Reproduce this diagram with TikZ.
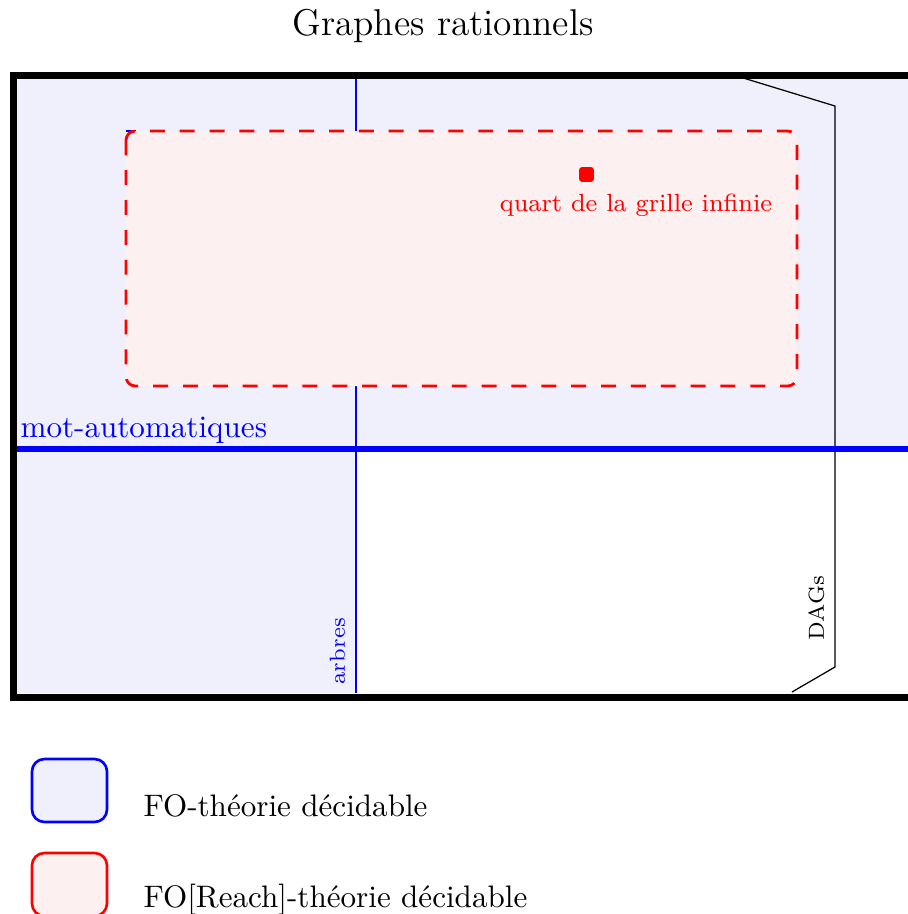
\documentclass[tikz,border=0pt]{standalone}
\usetikzlibrary{positioning}
\definecolor{bluefill}{RGB}{240,240,252}
\definecolor{redfill}{RGB}{253,240,240}
\tikzset{
  frame/.style={line width=2.25pt, draw=black},
  rednode/.style={draw=red, line width=0.9pt, dash pattern=on 4.8pt off 4.8pt, fill=redfill, rounded corners=3pt},
  legendbox/.style={line width=0.85pt, rounded corners=4pt},
  smalllabel/.style={font=\scriptsize, rotate=90, anchor=base west, inner sep=0pt},
}
\begin{document}
\begin{tikzpicture}[x=0.3215pt,y=-0.3215pt]
\useasboundingbox (0,0) rectangle (908,914);
\clip (0,0) rectangle (908,914);
% title
\node[font=\large, anchor=base, inner sep=0pt] (title) at (443,35) {Graphes rationnels};
% fills
\fill[bluefill, rounded corners=1pt] (17,79) rectangle (1000,693);
\fill[white] (356,449) rectangle (1000,693);
% arbres line
\coordinate (arbTop) at (356,79);
\coordinate (arbBot) at (356,693);
\draw[blue, line width=0.35pt] (arbTop) -- (arbBot);
\node[smalllabel, text=blue] (arbres) at (345,685) {arbres};
% DAGs
\coordinate (d1) at (740,77);
\coordinate (d2) at (835,106);
\coordinate (d3) at (835,667);
\coordinate (d4) at (792,692);
\draw[black, line width=0.4pt] (d1) -- (d2) -- (d3) -- (d4);
\node[smalllabel, text=black] (dags) at (824,641) {DAGs};
% mot-automatiques
\coordinate (mL) at (18,449);
\coordinate (mR) at (1000,449);
\draw[blue, line width=1.8pt, line cap=round] (mL) -- (mR);
\node[anchor=base west, inner sep=0pt, text=blue] (mot) at (20,437) {mot-automatiques};
% red box
\draw[blue, line width=0.4pt] (126,131) -- (136,131);
\draw[rednode] (126,131) rectangle (797,386);
\node[fill=red, minimum size=4.7pt, inner sep=0pt, rounded corners=0.8pt] (sq) at (586.5,174.5) {};
\node[font=\footnotesize, text=red, anchor=base, inner sep=0pt] (quart) at (636,211) {quart de la grille infinie};
% frame
\draw[frame] (13.5,75) rectangle (1000,697);
% legend
\draw[legendbox, draw=blue, fill=bluefill] (32,759) rectangle (107,822);
\node[anchor=base west, inner sep=0pt] (l1) at (143,816) {FO-théorie décidable};
\draw[legendbox, draw=red, fill=redfill] (32,853) rectangle (107,916);
\node[anchor=base west, inner sep=0pt] (l2) at (143,907) {FO[Reach]-théorie décidable};
\end{tikzpicture}
\end{document}
